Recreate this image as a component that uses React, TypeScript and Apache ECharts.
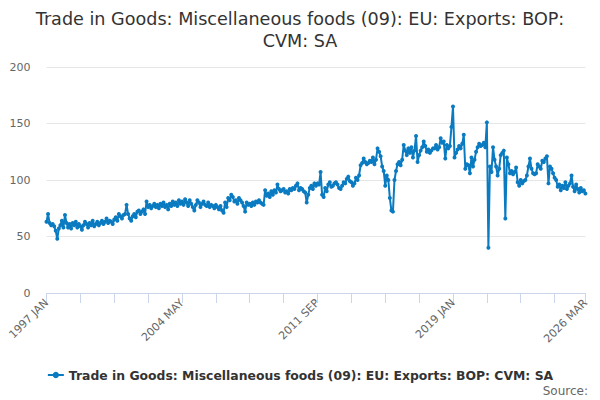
import React, { useEffect, useRef } from "react";
import * as echarts from "echarts";

const TITLE = "Trade in Goods: Miscellaneous foods (09): EU: Exports: BOP:\nCVM: SA";
const SERIES_NAME = "Trade in Goods: Miscellaneous foods (09): EU: Exports: BOP: CVM: SA";
const MONTHS = ["JAN", "FEB", "MAR", "APR", "MAY", "JUN", "JUL", "AUG", "SEP", "OCT", "NOV", "DEC"];
const FIRST_YEAR = 1997;
const LAST_YEAR = 2026;
const LAST_MONTH_COUNT = 3;

const v1997 = [63, 70, 62, 60, 61, 59, 55, 48, 57, 60, 64, 58];
const v1998 = [69, 62, 58, 61, 57, 62, 60, 63, 58, 61, 59, 56];
const v1999 = [60, 63, 61, 58, 62, 60, 64, 59, 61, 63, 60, 62];
const v2000 = [64, 61, 63, 66, 62, 64, 63, 61, 65, 67, 64, 70];
const v2001 = [68, 66, 69, 70, 78, 70, 66, 64, 68, 70, 67, 72];
const v2002 = [73, 70, 72, 74, 70, 81, 76, 78, 75, 77, 79, 76];
const v2003 = [78, 75, 79, 77, 80, 76, 78, 74, 79, 77, 81, 78];
const v2004 = [80, 77, 82, 79, 81, 78, 83, 80, 77, 82, 79, 76];
const v2005 = [73, 78, 82, 80, 76, 79, 81, 78, 77, 80, 76, 78];
const v2006 = [77, 75, 78, 76, 74, 77, 73, 71, 80, 76, 84, 82];
const v2007 = [87, 85, 81, 82, 79, 84, 82, 80, 77, 72, 80, 78];
const v2008 = [79, 77, 80, 78, 81, 80, 82, 80, 79, 78, 91, 86];
const v2009 = [88, 85, 90, 87, 91, 89, 96, 92, 90, 91, 92, 89];
const v2010 = [90, 88, 92, 91, 93, 92, 95, 97, 91, 93, 92, 90];
const v2011 = [89, 80, 87, 93, 95, 92, 97, 95, 97, 96, 107, 87];
const v2012 = [85, 93, 90, 96, 98, 94, 95, 97, 98, 96, 93, 92];
const v2013 = [95, 98, 97, 101, 103, 99, 98, 95, 97, 102, 100, 104];
const v2014 = [113, 115, 119, 116, 114, 115, 117, 116, 120, 114, 118, 128];
const v2015 = [125, 121, 112, 108, 95, 104, 100, 84, 73, 72, 100, 108];
const v2016 = [114, 116, 113, 118, 131, 126, 122, 128, 124, 129, 120, 126];
const v2017 = [139, 116, 122, 126, 129, 134, 130, 125, 127, 124, 126, 128];
const v2018 = [128, 131, 127, 129, 137, 133, 134, 119, 131, 128, 130, 147];
const v2019 = [165, 120, 124, 127, 130, 128, 132, 140, 110, 114, 113, 106];
const v2020 = [120, 112, 118, 125, 129, 132, 130, 131, 133, 129, 151, 40];
const v2021 = [112, 107, 129, 118, 112, 104, 110, 122, 124, 126, 66, 120];
const v2022 = [114, 106, 108, 105, 107, 111, 98, 95, 100, 97, 99, 100];
const v2023 = [104, 112, 119, 110, 106, 105, 106, 114, 112, 110, 117, 116];
const v2024 = [119, 121, 97, 112, 110, 106, 102, 100, 94, 96, 91, 95];
const v2025 = [93, 98, 92, 95, 97, 104, 94, 90, 96, 92, 89, 93];
const v2026 = [90, 91, 88];

const values: number[] = [
  ...v1997, ...v1998, ...v1999, ...v2000, ...v2001, ...v2002, ...v2003, ...v2004,
  ...v2005, ...v2006, ...v2007, ...v2008, ...v2009, ...v2010, ...v2011, ...v2012,
  ...v2013, ...v2014, ...v2015, ...v2016, ...v2017, ...v2018, ...v2019, ...v2020,
  ...v2021, ...v2022, ...v2023, ...v2024, ...v2025, ...v2026,
];

const categories: string[] = [];
for (let y = FIRST_YEAR; y <= LAST_YEAR; y++) {
  const n = y === LAST_YEAR ? LAST_MONTH_COUNT : 12;
  for (let m = 0; m < n; m++) categories.push(`${y} ${MONTHS[m]}`);
}

const Y_TICKS = [0, 50, 100, 150, 200];
const TICK_STEP = 22;
const LABEL_STEP = 88;

export default function App() {
  const ref = useRef<HTMLDivElement>(null);
  useEffect(() => {
    if (!ref.current) return;
    const chart = echarts.init(ref.current, null, { renderer: "svg" });
    const last = categories.length - 1;
    const font = "'DejaVu Sans', sans-serif";
    chart.setOption({
      animation: false,
      textStyle: { fontFamily: font },
      title: {
        text: TITLE,
        left: "center",
        top: 3,
        textStyle: { fontSize: 17.6, fontWeight: "normal", color: "#333333", lineHeight: 22, fontFamily: font },
      },
      grid: { left: 46.5, right: 14.6, top: 67, bottom: 107, containLabel: false },
      xAxis: {
        type: "category",
        data: categories,
        boundaryGap: false,
        axisLine: { lineStyle: { color: "#ccd6eb" } },
        axisTick: {
          length: 10,
          lineStyle: { color: "#ccd6eb" },
          interval: (i: number) => i % TICK_STEP === 0 || i === last,
        },
        axisLabel: {
          rotate: 45,
          color: "#666666",
          fontSize: 11,
          margin: 8,
          interval: (i: number) => i % LABEL_STEP === 0 || i === last,
        },
        splitLine: { show: false },
      },
      yAxis: {
        type: "value",
        min: Y_TICKS[0],
        max: Y_TICKS[Y_TICKS.length - 1],
        interval: 50,
        axisLine: { show: false },
        axisTick: { show: false },
        axisLabel: { color: "#666666", fontSize: 11, margin: 16 },
        splitLine: { lineStyle: { color: "#e6e6e6" } },
      },
      legend: {
        bottom: 14,
        left: "center",
        itemWidth: 16,
        itemHeight: 8,
        textStyle: { fontSize: 12.4, fontWeight: "bold", color: "#333333", fontFamily: font },
        data: [SERIES_NAME],
      },
      graphic: [
        {
          type: "text",
          right: 12,
          bottom: 3,
          style: { text: "Source:", fill: "#666666", fontSize: 12, fontFamily: font },
        },
      ],
      series: [
        {
          name: SERIES_NAME,
          type: "line",
          data: values,
          symbol: "circle",
          symbolSize: 4,
          showSymbol: true,
          showAllSymbol: true,
          lineStyle: { width: 2, color: "#0b7bc1" },
          itemStyle: { color: "#0b7bc1" },
        },
      ],
    });
    return () => chart.dispose();
  }, []);
  return (
    <div
      ref={ref}
      style={{ position: "absolute", left: 0, top: 0, width: 600, height: 400 }}
    />
  );
}
